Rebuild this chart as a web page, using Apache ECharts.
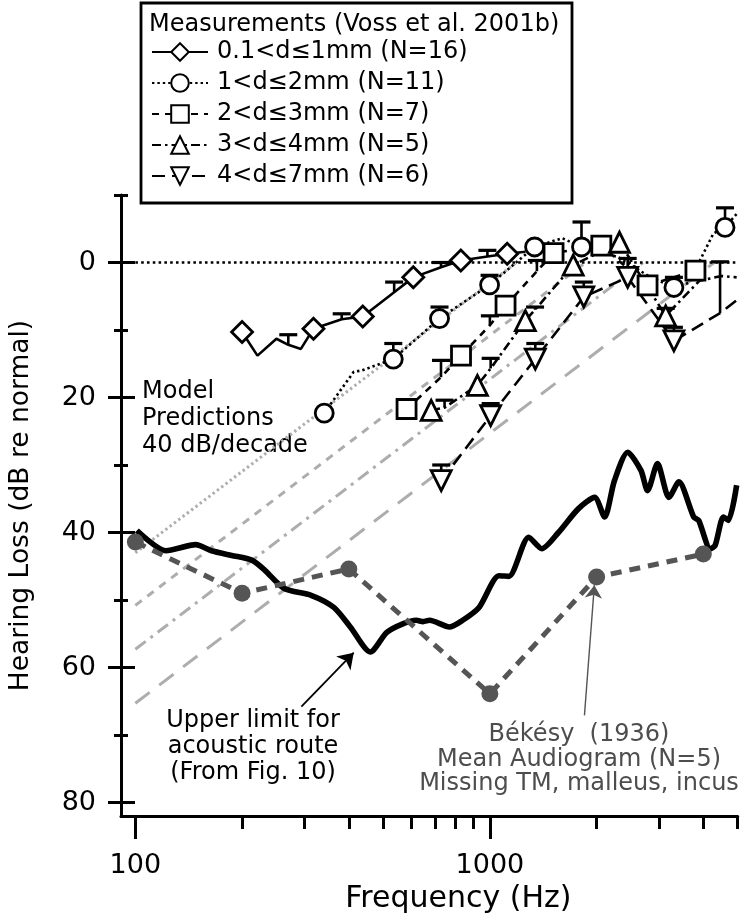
<!DOCTYPE html>
<html><head><meta charset="utf-8">
<script src="https://cdn.jsdelivr.net/npm/echarts@6/dist/echarts.min.js"></script>
<style>html,body{margin:0;padding:0;background:#fff}#c{width:750px;height:924px}</style>
</head><body><div id="c"></div>
<script>
// ---------------- data ----------------
const xMajorTicks = [100, 1000];
const xMinorTicks = [200, 300, 400, 500, 600, 700, 800, 900, 2000, 3000, 4000, 5000];
const yMajorTicks = [0, 20, 40, 60, 80];
const yMinorTicks = [-10, 10, 30, 50, 70];

const seriesNames = ['0.1<d≤1mm (N=16)', '1<d≤2mm (N=11)', '2<d≤3mm (N=7)', '3<d≤4mm (N=5)', '4<d≤7mm (N=6)'];

// 0.1<d<=1mm (diamonds)
const s1Freq = [200, 221, 250, 270, 293, 318, 382, 438, 537, 608, 728, 828, 984, 1119, 1260];
const s1Loss = [10.3, 13.8, 11.3, 12.2, 12.8, 9.8, 8.4, 8.0, 4.4, 2.2, 0.7, -0.3, -0.9, -1.3, -1.6];
const s1Mark = [1, 0, 0, 0, 0, 1, 0, 1, 0, 1, 0, 1, 0, 1, 0];
const s1ErrTop = [null, null, null, 10.7, null, null, 7.6, null, 2.9, null, 0.0, null, -1.8, null, null];

// 1<d<=2mm (circles)
const s2Freq = [341, 413, 435, 534, 721, 998, 1337, 1600, 1813, 2300, 2800, 3304, 3640, 4270, 4605, 4966];
const s2Loss = [22.3, 16.2, 16.0, 14.3, 8.3, 3.3, -2.3, -3.6, -2.3, -0.8, 2.0, 3.7, 3.0, -4.3, -5.2, -7.2];
const s2Mark = [1, 0, 0, 1, 1, 1, 1, 0, 1, 0, 0, 1, 0, 0, 1, 0];
const s2ErrTop = [null, null, null, 12.0, 6.6, 1.9, null, null, -6.0, null, null, 2.2, null, null, -8.1, null];

// 2<d<=3mm (squares)
const s3Freq = [582, 728, 829, 1000, 1107, 1357, 1512, 2062, 2784, 3800];
const s3Loss = [21.7, 17.0, 13.8, 9.3, 6.4, 1.3, -1.4, -2.5, 3.4, 1.2];
const s3Mark = [1, 0, 1, 0, 1, 0, 1, 1, 1, 1];
const s3ErrTop = [null, 14.5, null, 7.9, null, -0.3, null, null, null, null];

// 3<d<=4mm (triangles up)
const s4Freq = [683, 745, 922, 1005, 1259, 1341, 1718, 2320, 3132, 3900, 4500, 4966];
const s4Loss = [21.9, 21.5, 18.2, 15.7, 8.6, 7.0, 0.4, -3.0, 7.9, 2.7, 2.0, 2.2];
const s4Mark = [1, 0, 1, 0, 1, 0, 1, 1, 1, 0, 0, 0];
const s4ErrTop = [null, 20.4, null, 14.2, null, 6.6, null, null, 6.8, null, null, null];

// 4<d<=7mm (triangles down)
const s5Freq = [729, 1005, 1343, 1840, 2447, 3304, 4459, 4966];
const s5Loss = [32.3, 22.7, 14.3, 5.1, 2.2, 11.6, 7.5, 5.6];
const s5Mark = [1, 1, 1, 1, 1, 1, 0, 0];
const s5ErrTop = [30.0, 20.9, 12.0, 2.9, -0.6, 9.6, -0.1, null];

// Model predictions, 40 dB/decade (start and end points)
const modelDottedFreq = [100, 1189];   const modelDottedLoss = [43.0, 0];
const modelDashedFreq = [100, 1862];   const modelDashedLoss = [50.8, 0];
const modelDashDotFreq = [100, 2706];  const modelDashDotLoss = [57.3, 0];
const modelLongDashFreq = [100, 4292]; const modelLongDashLoss = [65.3, 0];

// Upper limit for acoustic route (From Fig. 10)
const limitFreq = [101, 122, 148, 164, 187, 213, 232, 263, 313, 363, 404, 460, 512, 570, 620, 648, 676, 769, 838, 932, 1061, 1131, 1287, 1402, 1561, 1775, 1975, 2106, 2246, 2448, 2667, 2784, 2970, 3199, 3412, 3757, 3880, 4183, 4319, 4557, 4706, 4966];
const limitLoss = [39.7, 42.7, 41.8, 42.7, 43.4, 44.1, 45.6, 48.3, 49.3, 51.1, 54.0, 57.7, 54.8, 53.5, 53.0, 53.2, 53.0, 54.0, 53.0, 51.1, 46.4, 46.5, 40.7, 42.4, 40.0, 36.5, 34.8, 37.7, 32.3, 28.1, 30.8, 33.8, 29.8, 34.8, 32.5, 37.7, 38.2, 42.4, 41.9, 37.7, 38.2, 33.0];

// Bekesy (1936) mean audiogram
const bekesyFreq = [100, 200, 400, 1000, 2000, 4000];
const bekesyLoss = [41.4, 49.0, 45.4, 63.9, 46.6, 43.2];

// 0 dB reference
const refFreq = [100, 5000];
const refLoss = [0, 0];

// annotation arrows [tail, head] in data space
const limitArrow = [[294, 65.8], [413, 57.8]];
const bekesyArrow = [[1848, 67.1], [1971, 47.8]];

// ---------------- chart ----------------
const FONT = 'DejaVu Sans';
const chart = echarts.init(document.getElementById('c'), null, {renderer: 'canvas'});

function pairs(f, l) { return f.map((v, i) => [v, l[i]]); }

function measSeries(name, f, l, mark, symbol, rotate, dash, size) {
  return {
    name, type: 'line', z: 5,
    data: f.map((v, i) => mark[i] ? {value: [v, l[i]]} : {value: [v, l[i]], symbol: 'none'}),
    symbol, symbolSize: size, symbolRotate: rotate, showAllSymbol: true,
    itemStyle: {color: '#fff', borderColor: '#000', borderWidth: 2.8},
    lineStyle: {color: '#000', width: 2.6, type: dash},
    emphasis: {disabled: true}
  };
}
function errSeries(f, l, top) {
  const data = [];
  f.forEach((v, i) => { if (top[i] !== null) data.push([v, l[i], top[i]]); });
  return {
    type: 'custom', z: 4, silent: true, data,
    encode: {x: 0, y: [1, 2]},
    renderItem(params, api) {
      const p = api.coord([api.value(0), api.value(1)]);
      const t = api.coord([api.value(0), api.value(2)]);
      return {type: 'group', children: [
        {type: 'line', shape: {x1: p[0], y1: p[1], x2: t[0], y2: t[1]}, style: {stroke: '#000', lineWidth: 2.6}},
        {type: 'line', shape: {x1: t[0] - 9, y1: t[1], x2: t[0] + 9, y2: t[1]}, style: {stroke: '#000', lineWidth: 3.2}}
      ]};
    }
  };
}
function modelSeries(f, l, dash) {
  return {type: 'line', z: 1, data: pairs(f, l), symbol: 'none', silent: true,
    lineStyle: {color: '#adadad', width: 3, type: dash}};
}
function arrowLine(from, to, color, width, size) {
  return {silent: true, symbol: ['none', 'arrow'], symbolSize: size, symbolKeepAspect: true,
    label: {show: false}, emphasis: {disabled: true},
    lineStyle: {color, width, type: 'solid', opacity: 1},
    itemStyle: {color},
    data: [[{coord: from}, {coord: to}]]};
}

const xBase = {type: 'log', logBase: 10, min: 91.1, max: 5000, gridIndex: 0, position: 'bottom', splitLine: {show: false}};
const yBase = {type: 'value', inverse: true, min: -10, max: 82, gridIndex: 0, position: 'left', splitLine: {show: false}};

const option = {
  animation: false,
  backgroundColor: '#fff',
  textStyle: {fontFamily: FONT},
  grid: {left: 115, right: 12.3, top: 195, bottom: 108, containLabel: false},
  xAxis: [
    Object.assign({}, xBase, {
      axisLine: {show: true, onZero: false, lineStyle: {color: '#000', width: 3}},
      axisTick: {show: true, customValues: xMajorTicks, length: 23, lineStyle: {color: '#000', width: 3}},
      axisLabel: {show: true, customValues: xMajorTicks, margin: 36, fontSize: 27, color: '#000', fontFamily: FONT,
        formatter: v => String(Math.round(v))},
      name: 'Frequency (Hz)', nameLocation: 'middle', nameGap: 66,
      nameTextStyle: {fontSize: 30, color: '#000', fontFamily: FONT, padding: [0, 0, 0, 58]}
    }),
    Object.assign({}, xBase, {
      axisLine: {show: false, onZero: false},
      axisTick: {show: true, customValues: xMinorTicks, length: 13, lineStyle: {color: '#000', width: 3}},
      axisLabel: {show: false}
    })
  ],
  yAxis: [
    Object.assign({}, yBase, {
      axisLine: {show: true, onZero: false, lineStyle: {color: '#000', width: 3}},
      axisTick: {show: true, customValues: yMajorTicks, length: 13, lineStyle: {color: '#000', width: 3}},
      axisLabel: {show: true, customValues: yMajorTicks, margin: 25, fontSize: 27, color: '#000', fontFamily: FONT},
      name: 'Hearing Loss (dB re normal)', nameLocation: 'middle', nameGap: 86, nameRotate: 90,
      nameTextStyle: {fontSize: 26.5, color: '#000', fontFamily: FONT}
    }),
    Object.assign({}, yBase, {
      axisLine: {show: false, onZero: false},
      axisTick: {show: true, inside: true, customValues: yMajorTicks, length: 14, lineStyle: {color: '#000', width: 3}},
      axisLabel: {show: false}
    }),
    Object.assign({}, yBase, {
      axisLine: {show: false, onZero: false},
      axisTick: {show: true, customValues: yMinorTicks, length: 7, lineStyle: {color: '#000', width: 3}},
      axisLabel: {show: false}
    }),
    Object.assign({}, yBase, {
      axisLine: {show: false, onZero: false},
      axisTick: {show: true, inside: true, customValues: yMinorTicks, length: 7, lineStyle: {color: '#000', width: 3}},
      axisLabel: {show: false}
    })
  ],
  legend: {
    data: seriesNames, orient: 'vertical', left: 151, top: 40, padding: 0,
    itemWidth: 56, itemHeight: 22, itemGap: 7,
    textStyle: {fontSize: 24, lineHeight: 24, color: '#000', fontFamily: FONT, padding: [0, 0, 0, 4]},
    selectedMode: false
  },
  graphic: [
    {type: 'rect', z: 10, shape: {x: 141, y: 3, width: 431, height: 200}, style: {fill: 'rgba(0,0,0,0)', stroke: '#000', lineWidth: 2.8}},
    {type: 'text', z: 10, style: {x: 149, y: 25, text: 'Measurements (Voss et al. 2001b)', fill: '#000', font: '24px "DejaVu Sans"', align: 'left', verticalAlign: 'middle'}},
    {type: 'text', style: {x: 142, y: 392, text: 'Model', fill: '#000', font: '24px "DejaVu Sans"', align: 'left', verticalAlign: 'middle'}},
    {type: 'text', style: {x: 142, y: 419, text: 'Predictions', fill: '#000', font: '24px "DejaVu Sans"', align: 'left', verticalAlign: 'middle'}},
    {type: 'text', style: {x: 142, y: 446, text: '40 dB/decade', fill: '#000', font: '24px "DejaVu Sans"', align: 'left', verticalAlign: 'middle'}},
    {type: 'text', style: {x: 253, y: 721, text: 'Upper limit for', fill: '#000', font: '24px "DejaVu Sans"', align: 'center', verticalAlign: 'middle'}},
    {type: 'text', style: {x: 253, y: 747, text: 'acoustic route', fill: '#000', font: '24px "DejaVu Sans"', align: 'center', verticalAlign: 'middle'}},
    {type: 'text', style: {x: 253, y: 773, text: '(From Fig. 10)', fill: '#000', font: '24px "DejaVu Sans"', align: 'center', verticalAlign: 'middle'}},
    {type: 'text', style: {x: 579, y: 735, text: 'Békésy  (1936)', fill: '#4d4d4d', font: '24px "DejaVu Sans"', align: 'center', verticalAlign: 'middle'}},
    {type: 'text', style: {x: 579, y: 760, text: 'Mean Audiogram (N=5)', fill: '#4d4d4d', font: '24px "DejaVu Sans"', align: 'center', verticalAlign: 'middle'}},
    {type: 'text', style: {x: 579, y: 784, text: 'Missing TM, malleus, incus', fill: '#4d4d4d', font: '24px "DejaVu Sans"', align: 'center', verticalAlign: 'middle'}}
  ],
  series: [
    {type: 'line', z: 2, data: pairs(refFreq, refLoss), symbol: 'none', silent: true,
      lineStyle: {color: '#000', width: 2.6, type: [2.6, 3.2]}},
    modelSeries(modelDottedFreq, modelDottedLoss, [2.4, 3]),
    modelSeries(modelDashedFreq, modelDashedLoss, [8, 7]),
    modelSeries(modelDashDotFreq, modelDashDotLoss, [13, 6, 3, 6]),
    modelSeries(modelLongDashFreq, modelLongDashLoss, [18, 12]),
    {type: 'line', z: 3, data: pairs(limitFreq, limitLoss), symbol: 'none', silent: true, smooth: 0.25,
      lineStyle: {color: '#000', width: 5.6},
      markLine: arrowLine(limitArrow[0], limitArrow[1], '#000', 1.8, 15)},
    {type: 'line', z: 3, data: pairs(bekesyFreq, bekesyLoss), symbol: 'circle', symbolSize: 17, silent: true,
      itemStyle: {color: '#555'}, lineStyle: {color: '#555', width: 5, type: [11, 8]},
      markLine: arrowLine(bekesyArrow[0], bekesyArrow[1], '#555', 1.4, 13)},
    errSeries(s1Freq, s1Loss, s1ErrTop),
    errSeries(s2Freq, s2Loss, s2ErrTop),
    errSeries(s3Freq, s3Loss, s3ErrTop),
    errSeries(s4Freq, s4Loss, s4ErrTop),
    errSeries(s5Freq, s5Loss, s5ErrTop),
    measSeries(seriesNames[0], s1Freq, s1Loss, s1Mark, 'diamond', 0, 'solid', 21),
    measSeries(seriesNames[1], s2Freq, s2Loss, s2Mark, 'circle', 0, [2.4, 3], 18),
    measSeries(seriesNames[2], s3Freq, s3Loss, s3Mark, 'rect', 0, [7, 6], 19),
    measSeries(seriesNames[3], s4Freq, s4Loss, s4Mark, 'triangle', 0, [9, 4, 2.5, 4], 20),
    measSeries(seriesNames[4], s5Freq, s5Loss, s5Mark, 'triangle', 180, [13, 7], 20)
  ]
};
chart.setOption(option);
</script>
</body></html>
